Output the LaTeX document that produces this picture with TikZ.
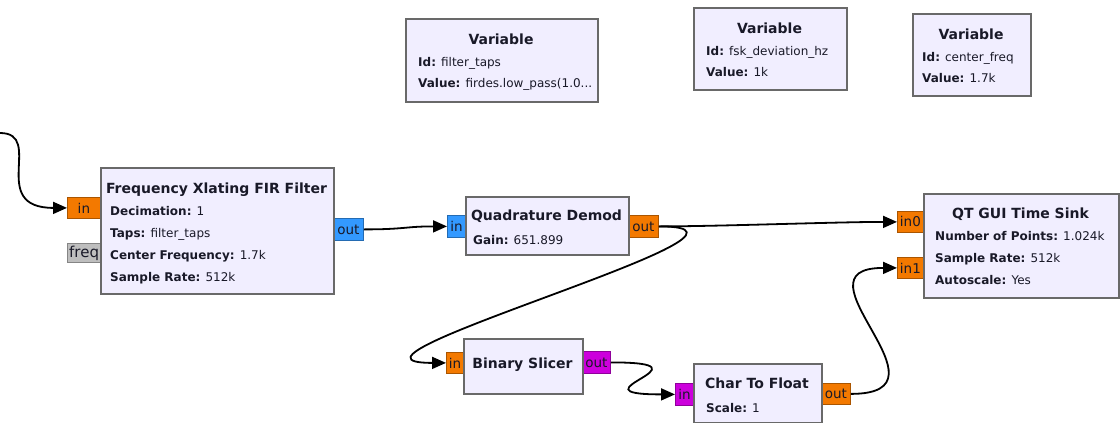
\documentclass[tikz,border=0pt]{standalone}
\usepackage{fontspec}
\setmainfont{DejaVu Sans}
\usetikzlibrary{arrows.meta}

\definecolor{blkfill}{RGB}{241,238,255}
\definecolor{blkedge}{RGB}{105,105,105}
\definecolor{pfloat}{RGB}{243,121,0}
\definecolor{pcplx}{RGB}{51,153,255}
\definecolor{pbyte}{RGB}{204,0,220}
\definecolor{pmsg}{RGB}{190,190,190}
\definecolor{ink}{RGB}{25,25,40}

\tikzset{
  blk/.style={draw=blkedge, fill=blkfill, line width=1.6pt, anchor=north west, inner sep=0pt},
  port/.style={draw=#1!70!black, fill=#1, line width=0.8pt, anchor=north west, inner sep=0pt,
               font=\fontsize{13.5}{14}\selectfont, text=ink},
  ttl/.style={anchor=base, inner sep=0pt, font=\fontsize{14}{16}\selectfont\bfseries, text=ink},
  lbl/.style={anchor=base west, inner sep=0pt, font=\fontsize{12}{14}\selectfont, text=ink},
  wire/.style={line width=1.8pt, -{Triangle[length=14pt,width=12pt]}},
}

\begin{document}
\begin{tikzpicture}[x=1pt, y=-1pt]
  \useasboundingbox (0,0) rectangle (1120,423);
  \fill[white] (0,0) rectangle (1120,423);

  % ---------- ports (drawn first, blocks sit on top) ----------
  \node[port=pfloat, minimum width=33pt, minimum height=21pt] (fir-in) at (67,197) {in};
  \node[port=pmsg,   minimum width=40pt, minimum height=19pt] (fir-freq) at (67,243) {};
  \node[anchor=west, inner sep=0pt, font=\fontsize{15}{15}\selectfont, text=ink]
       (fir-freq-txt) at ([xshift=2pt]fir-freq.west) {freq};
  \node[port=pcplx,  minimum width=30pt, minimum height=22pt] (fir-out) at (333,218) {out};

  \node[port=pcplx,  minimum width=18pt, minimum height=22pt] (dm-in)  at (447,215) {in};
  \node[port=pfloat, minimum width=30pt, minimum height=22pt] (dm-out) at (628,215) {out};

  \node[port=pfloat, minimum width=26pt, minimum height=21pt] (sk-in0) at (897,211) {in0};
  \node[port=pfloat, minimum width=26pt, minimum height=21pt] (sk-in1) at (897,257) {in1};

  \node[port=pfloat, minimum width=17pt, minimum height=21pt] (sl-in)  at (446,352) {in};
  \node[port=pbyte,  minimum width=28pt, minimum height=22pt] (sl-out) at (582,351) {out};

  \node[port=pbyte,  minimum width=18pt, minimum height=22pt] (cf-in)  at (675,383) {in};
  \node[port=pfloat, minimum width=29pt, minimum height=21pt] (cf-out) at (821,383) {out};

  % ---------- connections ----------
  \coordinate (src) at (0,133);
  \draw[wire] (src) .. controls +(45,0) and +(-80,0) .. (fir-in.west);
  \draw[wire] (fir-out.east) .. controls +(42,0) and +(-42,0) .. (dm-in.west);
  \draw[wire] (dm-out.east) .. controls +(60,0) and +(-60,0) .. (sk-in0.west);
  \draw[wire] (dm-out.east) .. controls +(150,0) and +(-145,0) .. (sl-in.west);
  \draw[wire] (sl-out.east) .. controls +(110,0) and +(-110,0) .. (cf-in.west);
  \draw[wire] (cf-out.east) .. controls +(110,0) and +(-110,0) .. (sk-in1.west);

  % ---------- blocks ----------
  \node[blk, minimum width=233pt, minimum height=126pt] (fir) at (100,167) {};
  \node[ttl] (fir-t0) at (216.5,193) {Frequency Xlating FIR Filter};
  \node[lbl] (fir-t1) at (110,215) {\textbf{Decimation:} 1};
  \node[lbl] (fir-t2) at (110,237) {\textbf{Taps:} filter\_taps};
  \node[lbl] (fir-t3) at (110,259) {\textbf{Center Frequency:} 1.7k};
  \node[lbl] (fir-t4) at (110,281) {\textbf{Sample Rate:} 512k};

  \node[blk, minimum width=163pt, minimum height=58pt] (dm) at (465,196) {};
  \node[ttl] (dm-t0) at (546.5,220) {Quadrature Demod};
  \node[lbl] (dm-t1) at (473,244) {\textbf{Gain:} 651.899};

  \node[blk, minimum width=192pt, minimum height=83pt] (v1) at (405,18) {};
  \node[ttl] (v1-t0) at (501,45) {Variable};
  \node[lbl] (v1-t1) at (418,66) {\textbf{Id:} filter\_taps};
  \node[lbl] (v1-t2) at (418,87) {\textbf{Value:} firdes.low\_pass(1.0...};

  \node[blk, minimum width=153pt, minimum height=82pt] (v2) at (693,7) {};
  \node[ttl] (v2-t0) at (769.5,33) {Variable};
  \node[lbl] (v2-t1) at (706,55) {\textbf{Id:} fsk\_deviation\_hz};
  \node[lbl] (v2-t2) at (706,76) {\textbf{Value:} 1k};

  \node[blk, minimum width=118pt, minimum height=82pt] (v3) at (912,13) {};
  \node[ttl] (v3-t0) at (971,39) {Variable};
  \node[lbl] (v3-t1) at (922,61) {\textbf{Id:} center\_freq};
  \node[lbl] (v3-t2) at (922,82) {\textbf{Value:} 1.7k};

  \node[blk, minimum width=195pt, minimum height=104pt] (sk) at (923,193) {};
  \node[ttl] (sk-t0) at (1020.5,218) {QT GUI Time Sink};
  \node[lbl] (sk-t1) at (935,240) {\textbf{Number of Points:} 1.024k};
  \node[lbl] (sk-t2) at (935,262) {\textbf{Sample Rate:} 512k};
  \node[lbl] (sk-t3) at (935,284) {\textbf{Autoscale:} Yes};

  \node[blk, minimum width=119pt, minimum height=55pt] (sl) at (463,338) {};
  \node[ttl] (sl-t0) at (522.5,368) {Binary Slicer};

  \node[blk, minimum width=128pt, minimum height=59pt] (cf) at (693,363) {};
  \node[ttl] (cf-t0) at (757,388) {Char To Float};
  \node[lbl] (cf-t1) at (706,412) {\textbf{Scale:} 1};
\end{tikzpicture}
\end{document}
